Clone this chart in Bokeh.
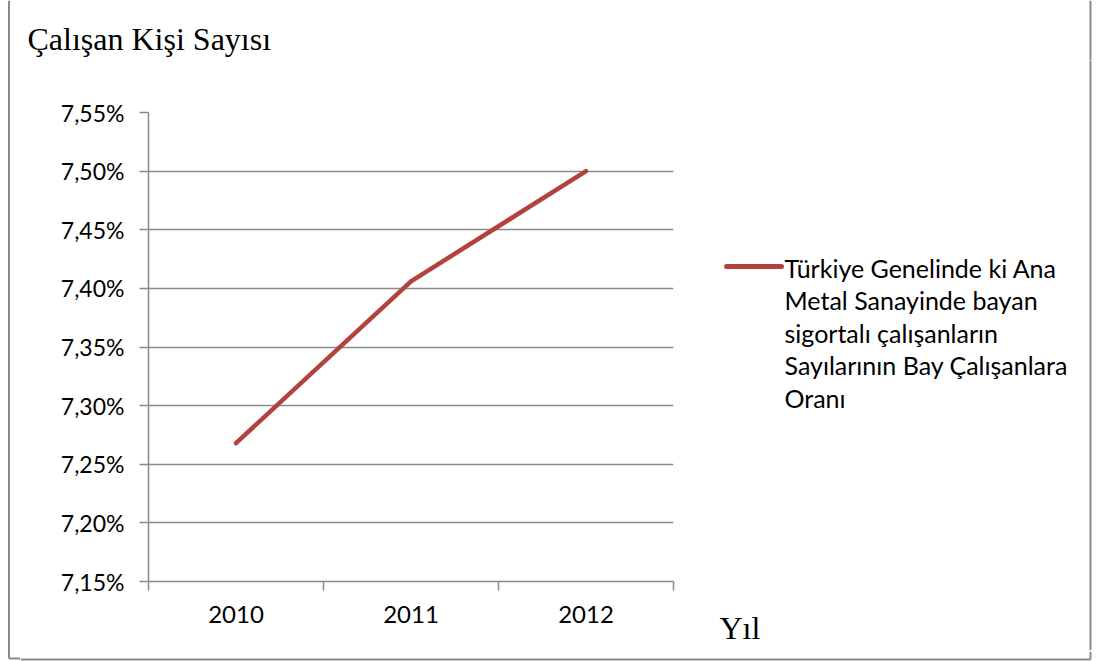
from bokeh.plotting import figure
from bokeh.layouts import column, row
from bokeh.models import FixedTicker, CustomJSTickFormatter, Label, Range1d
from bokeh.embed import file_html
from bokeh.resources import INLINE

years = ["2010", "2011", "2012"]
ratio = [7.268, 7.406, 7.500]
y_ticks = [7.15, 7.20, 7.25, 7.30, 7.35, 7.40, 7.45, 7.50, 7.55]
title_text = "Çalışan Kişi Sayısı"
x_title = "Yıl"
legend_lines = [
    "Türkiye Genelinde ki Ana",
    "Metal Sanayinde bayan",
    "sigortalı çalışanların",
    "Sayılarının Bay Çalışanlara",
    "Oranı",
]

x = list(range(1, len(years) + 1))
GRAY = "#8a8a8a"
RED = "#B3423F"

W, H = 1096, 661
TOP, BOT = 60, 650          # middle row spans window y TOP..BOT
LEFT_W, MAIN_W = 20, 680    # left strip, main plot widths
FL, FR, FT, FB = 148, 673, 112, 581  # frame edges in window pixels
BX_L, BX_R, BY_B = 8.5, 1090, 658    # outer border


def canvas(x0, x1, y0, y1):
    """A blank figure whose data coordinates equal window pixels."""
    f = figure(width=int(x1 - x0), height=int(y1 - y0), output_backend="svg",
               toolbar_location=None, x_range=Range1d(x0, x1), y_range=Range1d(y1, y0),
               x_axis_type=None, y_axis_type=None, min_border=0, frame_align=False)
    f.outline_line_color = None
    f.grid.visible = False
    f.background_fill_color = "white"
    f.border_fill_color = "white"
    return f


# left strip, full height: outer border's left edge
p_left = canvas(0, LEFT_W, 0, H)
p_left.segment([BX_L, BX_L], [0, BY_B], [BX_L, LEFT_W], [BY_B, BY_B],
               line_color=GRAY, line_width=2)

# top strip: title
p_top = canvas(LEFT_W, W, 0, TOP)
p_top.add_layout(Label(x=27, y=38, text=title_text, text_font="Liberation Serif",
                       text_font_size="32px", text_baseline="alphabetic", text_color="black"))
p_top.segment([BX_R], [0], [BX_R], [TOP], line_color=GRAY, line_width=2)

# main chart
p = figure(width=MAIN_W - LEFT_W, height=BOT - TOP, output_backend="svg", toolbar_location=None,
           x_range=Range1d(0.5, len(years) + 0.5), y_range=Range1d(y_ticks[0], y_ticks[-1]),
           min_border_left=FL - LEFT_W, min_border_right=MAIN_W - FR,
           min_border_top=FT - TOP, min_border_bottom=BOT - FB)
p.outline_line_color = None
p.background_fill_color = "white"
p.border_fill_color = None

p.line(x, ratio, line_color=RED, line_width=4.5, line_cap="round", line_join="round")

xa = p.xaxis[0]
xa.ticker = FixedTicker(ticks=x, minor_ticks=[i - 0.5 for i in x] + [x[-1] + 0.5])
xa.major_label_overrides = {i: y for i, y in zip(x, years)}
xa.major_tick_out = 0
xa.major_tick_in = 0
xa.minor_tick_out = 9
xa.minor_tick_in = 0
xa.minor_tick_line_color = GRAY
xa.minor_tick_line_width = 1.5
xa.axis_line_color = GRAY
xa.axis_line_width = 1.5
xa.major_label_standoff = 15
xa.major_label_text_font = "Lato"
xa.major_label_text_font_size = "24px"
xa.major_label_text_color = "black"

ya = p.yaxis[0]
ya.ticker = FixedTicker(ticks=y_ticks, minor_ticks=[])
ya.formatter = CustomJSTickFormatter(code="return tick.toFixed(2).replace('.', ',') + '%';")
ya.major_tick_out = 9
ya.major_tick_in = 0
ya.major_tick_line_color = GRAY
ya.major_tick_line_width = 1.5
ya.axis_line_color = GRAY
ya.axis_line_width = 1.5
ya.major_label_standoff = 15
ya.major_label_text_font = "Lato"
ya.major_label_text_font_size = "23px"
ya.major_label_text_color = "black"

p.xgrid.visible = False
p.ygrid.ticker = FixedTicker(ticks=y_ticks, minor_ticks=[])
p.ygrid.grid_line_color = GRAY
p.ygrid.grid_line_width = 1.5

# right side: legend and x title
p_side = canvas(MAIN_W, W, TOP, BOT)
p_side.line([726, 781], [266, 266], line_color=RED, line_width=5, line_cap="round")
for i, t in enumerate(legend_lines):
    p_side.add_layout(Label(x=784, y=267 + i * 32.5, text=t, text_font="Lato",
                            text_font_size="25px", text_baseline="middle", text_color="black"))
p_side.add_layout(Label(x=719, y=627, text=x_title, text_font="Liberation Serif",
                        text_font_size="32px", text_baseline="alphabetic", text_color="black"))
p_side.line([BX_R, BX_R], [TOP - 1, BOT + 1], line_color=GRAY, line_width=2)

# bottom strip
p_bot = canvas(LEFT_W, W, BOT, H)
p_bot.segment([LEFT_W, BX_R], [BY_B, BOT], [BX_R, BX_R], [BY_B, BY_B],
              line_color=GRAY, line_width=2)

right_part = column(p_top, row(p, p_side, spacing=0), p_bot, spacing=0)
layout = row(p_left, right_part, spacing=0)

open("out.html", "w").write(file_html(layout, INLINE))
